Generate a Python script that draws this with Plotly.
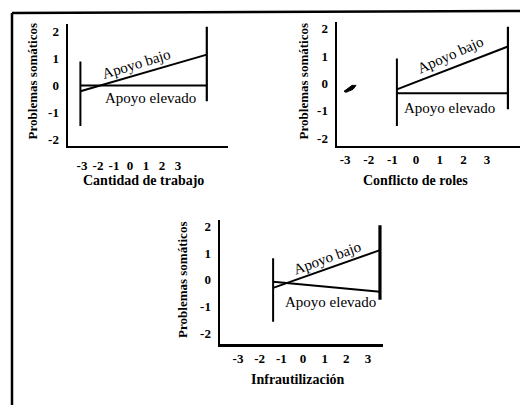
import plotly.graph_objects as go

W, H = 520, 406

# ---- data ----
tick_vals_x = [-3, -2, -1, 0, 1, 2, 3]
tick_text_x = ["-3", "-2", "-1", "0", "1", "2", "3"]
tick_vals_y = [-2, -1, 0, 1, 2]
tick_text_y = ["-2", "-1", "0", "1", "2"]

x_titles = ["Cantidad de trabajo", "Conflicto de roles", "Infrautilización"]
y_title = "Problemas somáticos"

# panel 1: Cantidad de trabajo
p1_x = [-3.1, 4.8]
p1_bajo = [-0.22, 1.15]
p1_elev = [0.0, 0.0]
p1_left_v = [0.89, -1.52]
p1_right_v = [2.19, -0.59]

# panel 2: Conflicto de roles
p2_x = [-0.81, 3.88]
p2_bajo = [-0.22, 1.35]
p2_elev = [-0.36, -0.36]
p2_left_v = [0.91, -1.56]
p2_right_v = [2.07, -0.95]

# panel 3: Infrautilización
p3_x = [-1.38, 3.55]
p3_bajo = [-0.30, 1.11]
p3_elev = [-0.07, -0.44]
p3_left_v = [0.81, -1.56]
p3_right_v = [2.04, -0.74]

FONT = "Liberation Serif, Times New Roman, serif"
fig = go.Figure()

panels = [
    dict(box=(68, 228, 22, 145), xr=[-3.875, 6.125], yr=[-2.26, 2.30], xso=6,
         x=p1_x, bajo=p1_bajo, elev=p1_elev, lv=p1_left_v, rv=p1_right_v, rvw=2.2,
         lab_bajo=(0.375, 0.81, -17), lab_elev=(1.25, -0.48),
         ytitle=(32, 80), xtitle=(143, 180)),
    dict(box=(337, 520, 20, 145), xr=[-3.34, 4.39], yr=[-2.29, 2.25], xso=0,
         x=p2_x, bajo=p2_bajo, elev=p2_elev, lv=p2_left_v, rv=p2_right_v, rvw=2.2,
         lab_bajo=(1.43, 1.05, -24), lab_elev=(1.43, -0.91),
         ytitle=(303, 80), xtitle=(415, 180)),
    dict(box=(220, 383, 220, 345), xr=[-3.83, 3.69], yr=[-2.41, 2.22], xso=0,
         x=p3_x, bajo=p3_bajo, elev=p3_elev, lv=p3_left_v, rv=p3_right_v, rvw=3.2,
         lab_bajo=(1.11, 0.81, -20), lab_elev=(1.25, -0.81),
         ytitle=(183, 280), xtitle=(298, 380)),
]

annotations = []
for i, p in enumerate(panels, start=1):
    xa = "x" if i == 1 else f"x{i}"
    ya = "y" if i == 1 else f"y{i}"
    l, r, t, b = p["box"]
    tf = dict(family=FONT, size=13, color="black", weight="bold")
    axis_x = dict(domain=[l / W, r / W], range=p["xr"], anchor=ya,
                  showgrid=False, zeroline=False, showline=True, linecolor="black",
                  linewidth=2.5, ticks="", tickvals=tick_vals_x, ticktext=tick_text_x,
                  tickfont=tf, ticklabelstandoff=p["xso"], fixedrange=True)
    axis_y = dict(domain=[1 - b / H, 1 - t / H], range=p["yr"], anchor=xa,
                  showgrid=False, zeroline=False, showline=True, linecolor="black",
                  linewidth=2.5, ticks="", tickvals=tick_vals_y, ticktext=tick_text_y,
                  tickfont=tf, ticklabelstandoff=4, fixedrange=True)
    fig.update_layout(**{("xaxis" if i == 1 else f"xaxis{i}"): axis_x,
                         ("yaxis" if i == 1 else f"yaxis{i}"): axis_y})
    line = dict(color="black", width=2)
    fig.add_trace(go.Scatter(x=p["x"], y=p["bajo"], mode="lines", line=line,
                             xaxis=xa, yaxis=ya, showlegend=False, hoverinfo="skip"))
    fig.add_trace(go.Scatter(x=p["x"], y=p["elev"], mode="lines", line=line,
                             xaxis=xa, yaxis=ya, showlegend=False, hoverinfo="skip"))
    fig.add_trace(go.Scatter(x=[p["x"][0], p["x"][0]], y=p["lv"], mode="lines", line=line,
                             xaxis=xa, yaxis=ya, showlegend=False, hoverinfo="skip"))
    fig.add_trace(go.Scatter(x=[p["x"][1], p["x"][1]], y=p["rv"], mode="lines",
                             line=dict(color="black", width=p["rvw"]),
                             xaxis=xa, yaxis=ya, showlegend=False, hoverinfo="skip"))
    bx, by, ang = p["lab_bajo"]
    annotations.append(dict(x=bx, y=by, xref=xa, yref=ya, text="Apoyo bajo",
                            textangle=ang, showarrow=False,
                            xanchor="center", yanchor="middle",
                            font=dict(family=FONT, size=15, color="black")))
    ex, ey = p["lab_elev"]
    annotations.append(dict(x=ex, y=ey, xref=xa, yref=ya, text="Apoyo elevado",
                            showarrow=False, xanchor="center", yanchor="middle",
                            font=dict(family=FONT, size=15, color="black")))
    yx, yy = p["ytitle"]
    annotations.append(dict(x=yx / W, y=1 - yy / H, xref="paper", yref="paper",
                            text="<b>" + y_title + "</b>", textangle=-90, showarrow=False,
                            xanchor="center", yanchor="middle",
                            font=dict(family=FONT, size=13, color="black")))
    tx, ty = p["xtitle"]
    annotations.append(dict(x=tx / W, y=1 - ty / H, xref="paper", yref="paper",
                            text="<b>" + x_titles[i - 1] + "</b>", showarrow=False,
                            xanchor="center", yanchor="middle",
                            font=dict(family=FONT, size=14, color="black")))

# page frame of the scan
shapes = [
    dict(type="line", xref="paper", yref="paper", x0=12 / W, y0=1 - 11 / H,
         x1=12 / W, y1=0, line=dict(color="black", width=2.5)),
    dict(type="line", xref="paper", yref="paper", x0=12 / W, y0=1 - 11 / H,
         x1=1, y1=1 - 9 / H, line=dict(color="black", width=2.5)),
    # ink blot in the second panel
    dict(type="path", xref="paper", yref="paper",
         path=f"M {344/W} {1-90/H} L {352/W} {1-84/H} L {356/W} {1-84/H} L {353/W} {1-88/H} L {346/W} {1-91/H} Z",
         fillcolor="black", line=dict(color="black", width=1)),
]

fig.update_layout(width=W, height=H, margin=dict(l=0, r=0, t=0, b=0),
                  paper_bgcolor="white", plot_bgcolor="rgba(0,0,0,0)",
                  annotations=annotations, shapes=shapes, hovermode=False,
                  font=dict(family=FONT, color="black"))

fig.write_html("out.html", config={"displayModeBar": False, "staticPlot": True},
               post_script="document.body.style.margin='0';")
